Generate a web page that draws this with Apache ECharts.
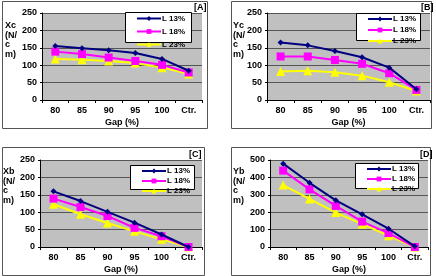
<!DOCTYPE html>
<html>
<head>
<meta charset="utf-8">
<script src="https://cdn.jsdelivr.net/npm/echarts@6/dist/echarts.min.js"></script>
<style>
    html, body { margin: 0; padding: 0; background: #fff; }
    #chart { width: 436px; height: 276px; }
</style>
</head>
<body>
<div id="chart"></div>
<script>
// 数据
var gapLabels = ['80', '85', '90', '95', '100', 'Ctr.'];
var seriesNames = ['L 13%', 'L 18%', 'L 23%'];

var xcL13 = [155, 149, 143, 135, 118, 84];
var xcL18 = [139, 132, 122, 112, 101, 79];
var xcL23 = [118, 116, 112, 106, 93, 75];

var ycL13 = [165, 157, 141, 123, 93, 31];
var ycL18 = [125, 125, 115, 104, 77, 29];
var ycL23 = [82, 84, 80, 70, 51, 26];

var xbL13 = [160, 132, 101, 70, 36, 0];
var xbL18 = [139, 115, 89, 55, 31, 0];
var xbL23 = [123, 94, 69, 45, 22, 0];

var ybL13 = [479, 369, 268, 188, 105, 4];
var ybL18 = [439, 331, 236, 146, 80, 0];
var ybL23 = [356, 276, 198, 131, 65, 0];

var yTicksSmall = [0, 50, 100, 150, 200, 250];
var yTicksLarge = [0, 100, 200, 300, 400, 500];

var fontFamily = '"Liberation Sans", Arial, sans-serif';
var colors = ['#000080', '#ff00ff', '#ffff00'];
var symbols = ['diamond', 'rect', 'triangle'];
var symbolSizes = [6, 8, 9];

// 四个面板的布局
var panels = [
    { tag: '[A]', yName: 'Xc\n(N/\nc\nm)', data: [xcL13, xcL18, xcL23], ticks: yTicksSmall,
      grid: { left: 42, top: 13, width: 160, height: 87 },
      box: [2, 1, 205, 127], tagPos: [194, 3], namePos: [5, 21],
      legend: { left: 125, top: 12, width: 66, height: 30, lh: 9 } },
    { tag: '[B]', yName: 'Yc\n(N/\nc\nm)', data: [ycL13, ycL18, ycL23], ticks: yTicksSmall,
      grid: { left: 267, top: 13, width: 163, height: 87 },
      box: [231, 1, 200, 127], tagPos: [421, 3], namePos: [233, 21],
      legend: { left: 356, top: 13, width: 64, height: 27, lh: 8 } },
    { tag: '[C]', yName: 'Xb\n(N/\nc\nm)', data: [xbL13, xbL18, xbL23], ticks: yTicksSmall,
      grid: { left: 40, top: 160, width: 162, height: 87 },
      box: [2, 147, 202, 128], tagPos: [189, 150], namePos: [3, 167],
      legend: { left: 130, top: 165, width: 64, height: 24, lh: 7 } },
    { tag: '[D]', yName: 'Yb\n(N/\nc\nm)', data: [ybL13, ybL18, ybL23], ticks: yTicksLarge,
      grid: { left: 270, top: 160, width: 158, height: 87 },
      box: [231, 147, 199, 128], tagPos: [420, 150], namePos: [233, 167],
      legend: { left: 355, top: 163, width: 63, height: 25, lh: 7 } }
];

var grids = [], xAxes = [], yAxes = [], series = [], legends = [], graphics = [];

panels.forEach(function (p, i) {
    // 外框
    graphics.push({
        type: 'rect', z: -10,
        shape: { x: p.box[0] + 0.5, y: p.box[1] + 0.5, width: p.box[2], height: p.box[3] },
        style: { fill: '#fff', stroke: '#555', lineWidth: 1 }
    });
    // 标签 [A]...
    graphics.push({
        type: 'text', left: p.tagPos[0], top: p.tagPos[1],
        style: { text: p.tag, font: 'bold 9px ' + fontFamily, fill: '#000' }
    });
    // 纵轴名称
    graphics.push({
        type: 'text', left: p.namePos[0], top: p.namePos[1],
        style: { text: p.yName, font: 'bold 9px ' + fontFamily, fill: '#000', lineHeight: 9.5 }
    });
    // 图例框
    graphics.push({
        type: 'rect', z: 50,
        shape: { x: p.legend.left + 0.5, y: p.legend.top + 0.5, width: p.legend.width, height: p.legend.height },
        style: { fill: '#fff', stroke: '#000', lineWidth: 1 }
    });

    grids.push({
        left: p.grid.left, top: p.grid.top, width: p.grid.width, height: p.grid.height,
        backgroundColor: '#c0c0c0', show: true, borderWidth: 0
    });

    var step = p.ticks[1] - p.ticks[0];
    xAxes.push({
        type: 'category', gridIndex: i, data: gapLabels, boundaryGap: true,
        name: 'Gap (%)', nameLocation: 'middle', nameGap: 18,
        nameTextStyle: { fontFamily: fontFamily, fontWeight: 'bold', fontSize: 9, color: '#000' },
        axisLine: { lineStyle: { color: '#000', width: 1 } },
        axisTick: { show: true, inside: false, length: 3, lineStyle: { color: '#000' } },
        axisLabel: { fontFamily: fontFamily, fontWeight: 'bold', fontSize: 9, color: '#000', margin: 6 }
    });
    yAxes.push({
        type: 'value', gridIndex: i,
        min: p.ticks[0], max: p.ticks[p.ticks.length - 1], interval: step,
        axisLine: { show: true, lineStyle: { color: '#000', width: 1 } },
        axisTick: { show: true, length: 2, lineStyle: { color: '#000' } },
        splitLine: { show: true, lineStyle: { color: '#555', width: 1 } },
        axisLabel: { fontFamily: fontFamily, fontWeight: 'bold', fontSize: 9, color: '#000', margin: 5 }
    });

    p.data.forEach(function (vals, k) {
        series.push({
            type: 'line', name: seriesNames[k], xAxisIndex: i, yAxisIndex: i,
            data: vals, symbol: symbols[k], symbolSize: symbolSizes[k],
            showAllSymbol: true, z: 5 - k,
            lineStyle: { color: colors[k], width: 2 },
            itemStyle: { color: colors[k] }
        });
    });

    // 图例：折线+标记
    legends.push({
        data: seriesNames.slice(),
        orient: 'vertical', left: p.legend.left + 11, top: p.legend.top + 2, padding: 0,
        itemWidth: 24, itemHeight: 6, itemGap: p.legend.lh - 6 + 1, z: 60,
        selectedMode: false,
        textStyle: { fontFamily: fontFamily, fontWeight: 'bold', fontSize: 8, lineHeight: p.legend.lh,
                     color: '#000', padding: [0, 0, 0, -4] }
    });
});

var chart = echarts.init(document.getElementById('chart'), null, { renderer: 'canvas' });
chart.setOption({
    animation: false,
    backgroundColor: '#fff',
    grid: grids,
    xAxis: xAxes,
    yAxis: yAxes,
    legend: legends,
    series: series,
    graphic: graphics
});
</script>
</body>
</html>
